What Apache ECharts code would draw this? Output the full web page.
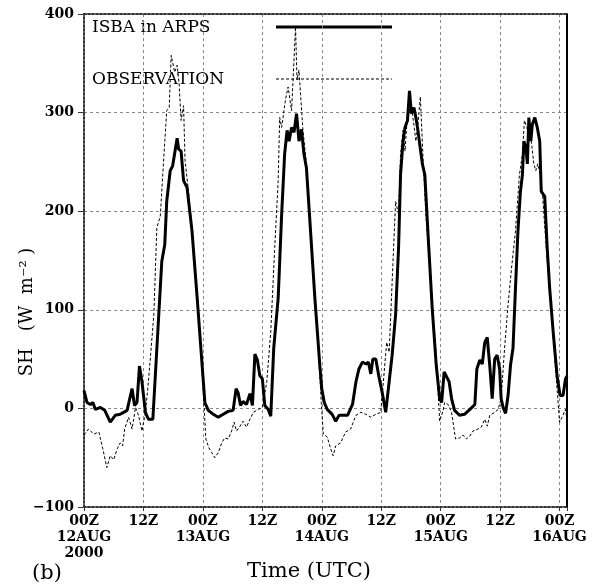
<!DOCTYPE html>
<html>
<head>
<meta charset="utf-8">
<script src="https://cdn.jsdelivr.net/npm/echarts@6/dist/echarts.min.js"></script>
<style>html,body{margin:0;padding:0;background:#fff}#c{width:605px;height:588px}</style>
</head>
<body>
<div id="c"></div>
<script>
// Hours since 00Z 12AUG2000
var modelHours = [0.0,0.6,1.3,1.8,2.3,3.3,4.2,5.3,6.3,7.3,8.0,8.7,9.7,10.2,10.7,11.2,11.7,12.4,13.0,13.9,14.7,15.7,16.3,16.7,17.4,17.9,18.3,18.8,19.1,19.6,20.1,20.8,21.8,22.8,23.8,24.4,25.1,26.1,27.1,28.1,29.1,30.1,30.7,31.1,31.6,32.1,32.8,33.5,34.0,34.5,35.0,35.5,36.0,36.5,37.2,37.7,38.3,39.2,39.9,40.5,41.0,41.4,41.9,42.4,42.9,43.4,43.9,44.4,44.9,45.6,46.6,47.6,48.0,48.5,49.1,50.1,50.8,51.5,52.2,53.2,54.2,54.9,55.5,56.2,56.9,57.4,57.9,58.3,58.9,59.5,60.2,60.9,61.6,62.2,62.9,63.5,63.9,64.4,64.8,65.3,65.7,66.1,66.6,67.0,67.4,67.8,68.3,68.8,69.6,70.3,71.1,71.8,72.2,72.7,73.1,73.7,74.2,74.8,75.8,76.8,77.9,78.9,79.3,79.9,80.4,80.9,81.4,81.9,82.4,82.9,83.4,83.9,84.2,84.6,85.1,85.6,86.1,86.6,87.1,87.6,88.1,88.5,88.8,89.2,89.5,89.8,90.2,90.5,91.0,91.5,92.0,92.3,93.0,93.5,94.0,94.7,95.5,96.1,96.7,97.2,97.5];
var modelSH = [18,6,4,6,-1,1,-2,-14,-7,-6,-4,-2,20,3,6,43,27,-4,-11,-11,60,149,166,210,241,246,248,274,263,261,231,224,180,115,47,6,-2,-6,-9,-6,-3,-2,20,16,3,7,4,15,3,55,49,33,30,3,-1,-8,61,112,197,258,282,271,285,280,299,271,283,258,244,190,112,44,20,6,-1,-6,-13,-7,-7,-7,4,27,40,47,45,47,35,50,50,33,16,-4,27,54,95,163,237,271,285,292,322,299,305,295,282,283,248,237,163,101,44,10,6,37,37,27,10,-2,-7,-6,-1,4,40,49,45,67,72,44,10,50,54,40,10,1,-5,13,44,61,122,180,220,237,271,265,248,295,271,288,295,285,271,220,215,163,122,78,33,13,13,30,33];
var obsHours = [0.0,0.9,2.0,3.0,3.8,4.6,5.3,6.0,6.7,7.3,7.8,8.2,9.0,9.7,10.4,11.0,11.7,12.4,13.0,14.1,14.7,15.4,16.1,16.7,17.2,17.6,18.3,18.8,19.2,19.6,20.1,20.4,21.1,22.1,23.1,23.9,24.6,25.2,25.8,26.4,27.1,27.8,28.4,29.1,29.8,30.3,30.8,31.5,32.1,32.8,33.5,34.2,35.2,36.0,36.9,37.7,38.5,39.2,39.5,39.9,40.7,41.2,41.9,42.2,42.7,43.0,43.4,43.8,44.2,44.9,45.9,46.9,47.9,48.3,49.1,49.8,50.3,50.8,51.8,52.8,53.8,54.9,55.9,56.9,57.9,58.9,59.9,60.6,61.1,61.6,62.2,62.9,63.5,63.9,64.4,64.8,65.3,65.7,66.3,67.0,67.4,67.9,68.4,69.0,70.0,71.0,71.8,72.5,72.8,73.5,74.2,75.0,75.8,76.5,77.2,77.9,78.5,79.5,80.2,80.9,81.4,81.9,82.9,83.6,84.2,84.9,85.6,86.3,87.1,87.9,88.5,88.9,89.4,89.8,90.3,90.8,91.2,91.6,92.1,92.6,93.3,94.3,95.3,96.0,96.5,97.2,97.5];
var obsSH = [-27,-21,-26,-24,-41,-60,-48,-52,-41,-35,-38,-21,-9,-21,1,-7,-23,-4,27,95,183,195,254,302,305,358,341,348,329,292,307,251,220,163,101,33,-31,-40,-45,-50,-45,-35,-30,-31,-23,-14,-23,-18,-13,-19,-11,-4,-1,1,27,78,163,231,295,285,314,326,302,333,387,333,343,312,282,248,169,95,6,-26,-29,-41,-48,-38,-35,-24,-21,-7,-4,-6,-9,-6,-4,37,67,57,128,210,197,258,282,261,299,309,299,271,288,316,258,197,128,61,-13,-2,6,4,-4,-31,-30,-27,-31,-28,-23,-21,-19,-11,-18,-7,-4,-1,10,61,105,142,180,237,258,292,285,275,271,248,241,248,237,214,163,101,33,-14,-9,-1,-12];
var xTickLabels = ['00Z\n12AUG\n2000','12Z','00Z\n13AUG','12Z','00Z\n14AUG','12Z','00Z\n15AUG','12Z','00Z\n16AUG'];
var seriesNames = ['ISBA in ARPS','OBSERVATION'];

function pairs(xs, ys){ var out=[]; for (var i=0;i<xs.length;i++) out.push([xs[i], ys[i]]); return out; }

var chart = echarts.init(document.getElementById('c'), null, {renderer:'canvas'});
var serif = 'DejaVu Serif';
var frameDotted = {color:'#333', type:'dotted', width:2};
var option = {
  animation:false,
  backgroundColor:'#fff',
  grid:{left:84, right:38, top:14, bottom:81, containLabel:false},
  xAxis:[{
    type:'value', min:0, max:97.5, interval:12,
    axisLine:{onZero:false, lineStyle:frameDotted},
    axisTick:{show:true, length:4, lineStyle:{color:'#333'}},
    axisLabel:{
      formatter:function(v){ var i=Math.round(v/12); if (Math.abs(v-i*12)>0.01) return ''; return xTickLabels[i]||''; },
      fontFamily:serif, fontWeight:'bold', fontSize:14, color:'#000', lineHeight:16, margin:6
    },
    splitLine:{show:true, lineStyle:{color:'#888', type:[3,3], width:1}}
  },{
    type:'value', position:'top', min:0, max:97.5,
    axisLine:{onZero:false, lineStyle:frameDotted},
    axisTick:{show:false}, axisLabel:{show:false}, splitLine:{show:false}
  }],
  yAxis:[{
    type:'value', min:-100, max:400, interval:100,
    axisLine:{onZero:false, lineStyle:frameDotted},
    axisTick:{show:true, length:6, lineStyle:{color:'#333'}},
    axisLabel:{fontFamily:serif, fontWeight:'bold', fontSize:14, color:'#000', margin:10,
      formatter:function(v){ return v<0 ? '\u2212'+Math.abs(v) : String(v); }},
    splitLine:{show:true, lineStyle:{color:'#888', type:[3,3], width:1}}
  },{
    type:'value', position:'right', min:-100, max:400,
    axisLine:{onZero:false, lineStyle:{color:'#000', width:2}},
    axisTick:{show:false}, axisLabel:{show:false}, splitLine:{show:false}
  }],
  graphic:[
    {type:'text', x:27, y:312, rotation:Math.PI/2, style:{x:0, y:0, text:'SH   (W  m\u207B\u00B2 )', font:'18px "DejaVu Serif"', fill:'#000', textAlign:'center', textVerticalAlign:'middle'}},
    {type:'text', style:{x:32, y:574, text:'(b)', font:'21px "DejaVu Serif"', fill:'#000', textAlign:'left', textVerticalAlign:'middle'}},
    {type:'text', style:{x:309, y:572, text:'Time (UTC)', font:'21px "DejaVu Serif"', fill:'#000', textAlign:'center', textVerticalAlign:'middle'}},
    // legend
    {type:'text', style:{x:92, y:28, text:seriesNames[0], font:'17px "DejaVu Serif"', fill:'#000', textAlign:'left', textVerticalAlign:'middle'}},
    {type:'line', shape:{x1:276, y1:27, x2:392, y2:27}, style:{stroke:'#000', lineWidth:3}},
    {type:'text', style:{x:92, y:80, text:seriesNames[1], font:'17px "DejaVu Serif"', fill:'#000', textAlign:'left', textVerticalAlign:'middle'}},
    {type:'line', shape:{x1:276, y1:79, x2:392, y2:79}, style:{stroke:'#000', lineWidth:1, lineDash:[3,2]}}
  ],
  series:[
    {name:seriesNames[0], type:'line', data:pairs(modelHours, modelSH), symbol:'none', lineStyle:{color:'#000', width:3}, itemStyle:{color:'#000'}, z:3},
    {name:seriesNames[1], type:'line', data:pairs(obsHours, obsSH), symbol:'none', lineStyle:{color:'#000', width:1, type:[3,2]}, itemStyle:{color:'#000'}, z:2}
  ]
};
chart.setOption(option);
</script>
</body>
</html>
